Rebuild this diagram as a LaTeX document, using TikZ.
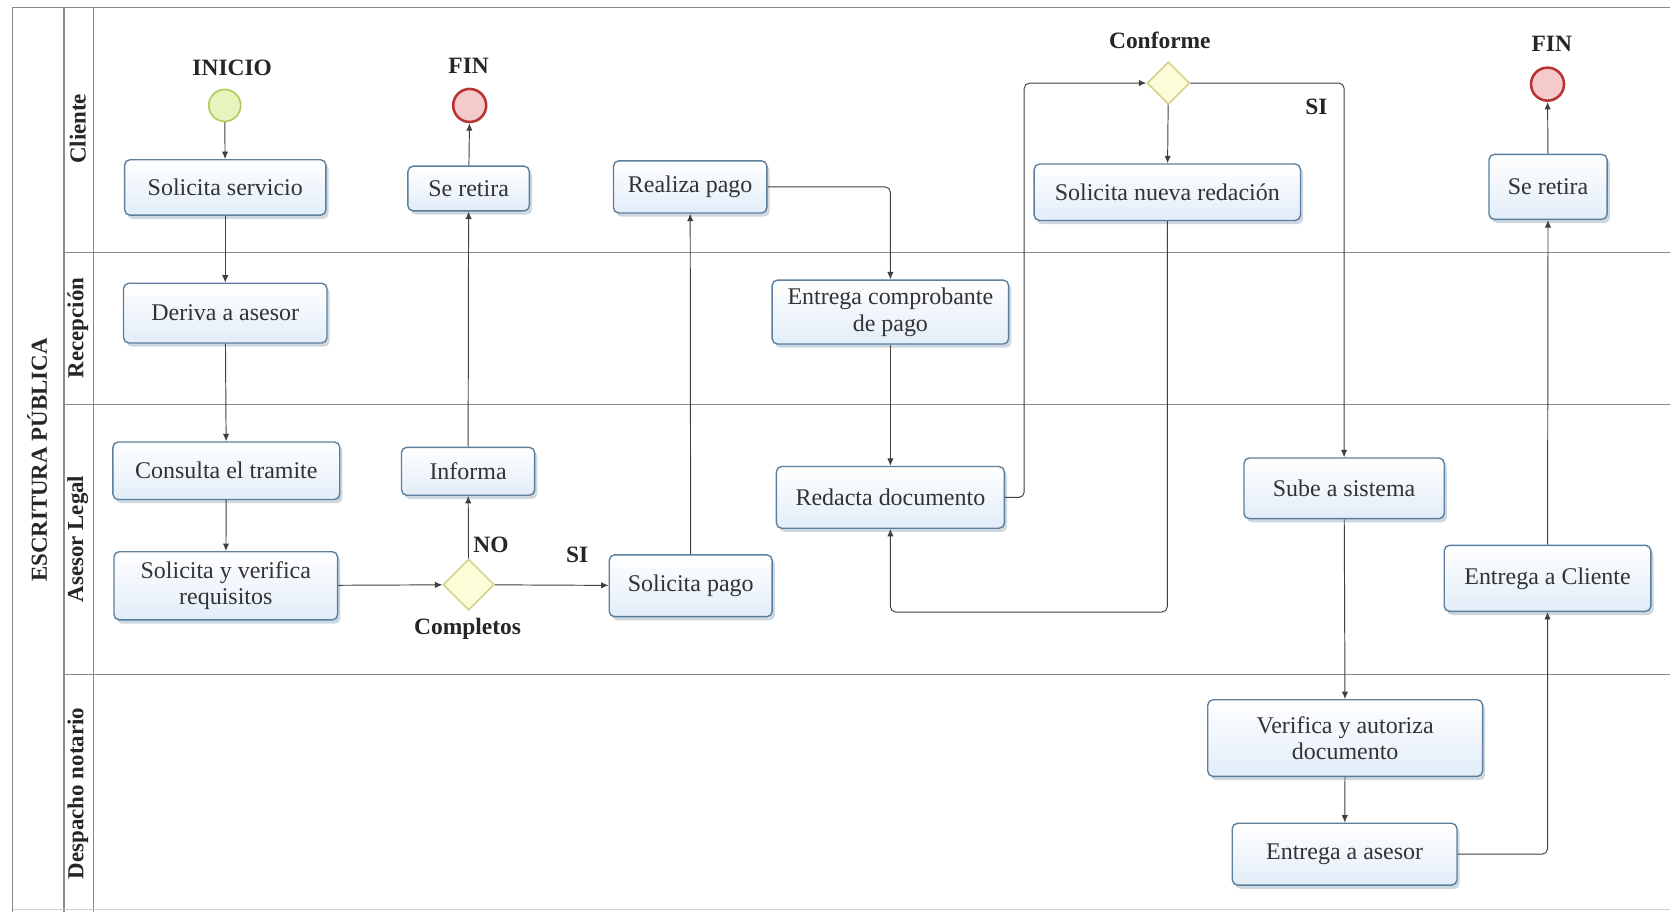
\documentclass[tikz,border=0pt]{standalone}
\usepackage{fontspec}
\setmainfont{Liberation Serif}
\usetikzlibrary{arrows.meta,shapes.geometric,shadows,calc}
\definecolor{boxborder}{HTML}{5B7F9C}
\definecolor{boxfill}{HTML}{E2EDF8}
\definecolor{txt}{HTML}{333333}
\definecolor{lanegray}{HTML}{8A8A8A}
\definecolor{conn}{HTML}{404040}
\definecolor{startfill}{HTML}{E6F4BE}
\definecolor{startdraw}{HTML}{AFCB5A}
\definecolor{endfill}{HTML}{F5CACA}
\definecolor{enddraw}{HTML}{B83434}
\definecolor{gwfill}{HTML}{FCFCD8}
\definecolor{gwdraw}{HTML}{D3D38A}
\tikzset{
  task/.style={draw=boxborder, line width=1.3pt, rounded corners=5pt,
    top color=white, bottom color=boxfill, text=txt, align=center,
    inner sep=2pt, font=\fontsize{22.5}{25}\selectfont,
    drop shadow={shadow xshift=2.5pt, shadow yshift=-3.5pt, opacity=0.3, fill=boxborder}},
  startev/.style={circle, draw=startdraw, line width=1.5pt, fill=startfill, minimum size=30pt, inner sep=0pt},
  endev/.style={circle, draw=enddraw, line width=2.4pt, fill=endfill, minimum size=31pt, inner sep=0pt},
  gw/.style={diamond, aspect=1, draw=gwdraw, line width=1.5pt, fill=gwfill, inner sep=0pt},
  lbl/.style={font=\fontsize{22}{24}\selectfont\bfseries, text=black!85},
  lanelbl/.style={font=\fontsize{21.5}{24}\selectfont\bfseries, text=black!85, rotate=90},
  arr/.style={draw=conn, line width=0.9pt, -{Latex[length=7pt,width=6pt]}, rounded corners=5pt},
  lane/.style={draw=lanegray, line width=1.2pt}
}
\begin{document}
\begin{tikzpicture}[x=1pt,y=-1pt]
\useasboundingbox (0,0) rectangle (1568,856);
\fill[white] (0,0) rectangle (1568,856);
% pool and lanes
\draw[lane] (1568,7) -- (12,7) -- (12,856);
\draw[lane] (60,7) -- (60,856);
\draw[lane] (88,7) -- (88,856);
\draw[lane] (60,237) -- (1568,237);
\draw[lane] (60,380) -- (1568,380);
\draw[lane] (60,633) -- (1568,633);
\draw[draw=lanegray!40, line width=1pt] (12,854) -- (1568,854);
\node[lanelbl] (pool) at (35,432) {ESCRITURA PÚBLICA};
\node[lanelbl] (lcli) at (73,121) {Cliente};
\node[lanelbl] (lrec) at (73,308) {Recepción};
\node[lanelbl] (lase) at (73,506) {Asesor Legal};
\node[lanelbl] (ldes) at (73,745) {Despacho notario};
% events and gateways
\node[startev] (start) at (211,99) {};
\node[lbl] (tinicio) at (218,64) {INICIO};
\node[endev] (end1) at (441,99) {};
\node[lbl] (tfin1) at (440,62) {FIN};
\node[endev] (end2) at (1453,79) {};
\node[lbl] (tfin2) at (1457,41) {FIN};
\node[gw, minimum size=48pt] (g1) at (440,549) {};
\node[lbl] (tcomp) at (439,590) {Completos};
\node[gw, minimum size=40pt] (g2) at (1097,78) {};
\node[lbl] (tconf) at (1089,38) {Conforme};
% tasks
\node[task, minimum width=189pt, minimum height=52pt] (ss) at (211.5,176) {Solicita servicio};
\node[task, minimum width=191pt, minimum height=56pt] (da) at (211.5,294) {Deriva a asesor};
\node[task, minimum width=213pt, minimum height=54pt] (ct) at (212.5,442) {Consulta el tramite};
\node[task, minimum width=210pt, minimum height=64pt] (sv) at (212,550) {Solicita y verifica\\requisitos};
\node[task, minimum width=125pt, minimum height=45pt] (inf) at (439.5,442.5) {Informa};
\node[task, minimum width=114pt, minimum height=42pt] (sr1) at (440,177) {Se retira};
\node[task, minimum width=153pt, minimum height=58pt] (sp) at (648.5,550) {Solicita pago};
\node[task, minimum width=144pt, minimum height=49pt] (rp) at (648,175.5) {Realiza pago};
\node[task, minimum width=222pt, minimum height=60pt] (ec) at (836,293) {Entrega comprobante\\de pago};
\node[task, minimum width=214pt, minimum height=58pt] (rd) at (836,467) {Redacta documento};
\node[task, minimum width=250pt, minimum height=53pt] (snr) at (1096,180.5) {Solicita nueva redación};
\node[task, minimum width=188pt, minimum height=57pt] (sub) at (1262,458.5) {Sube a sistema};
\node[task, minimum width=258pt, minimum height=72pt] (va) at (1263,693) {Verifica y autoriza\\documento};
\node[task, minimum width=211pt, minimum height=58pt] (ea) at (1262.5,802) {Entrega a asesor};
\node[task, minimum width=194pt, minimum height=62pt] (ecl) at (1453,543) {Entrega a Cliente};
\node[task, minimum width=111pt, minimum height=61pt] (sr2) at (1453.5,175.5) {Se retira};
% connectors
\draw[arr] (start) -- (ss);
\draw[arr] (ss) -- (da);
\draw[arr] (da) -- (ct);
\draw[arr] (ct) -- (sv);
\draw[arr] (sv) -- (g1);
\draw[arr] (g1) -- (inf);
\node[lbl] (tno) at (461,512) {NO};
\draw[arr] (inf) -- (sr1);
\draw[arr] (sr1) -- (end1);
\draw[arr] (g1) -- (sp);
\node[lbl] (tsi1) at (542,521) {SI};
\draw[arr] (sp) -- (rp);
\draw[arr] (rp.east) -| (ec.north);
\draw[arr] (ec) -- (rd);
\draw[arr] (rd.east) -- ++(18,0) |- (g2.west);
\draw[arr] (g2) -- (snr);
\draw[arr] (snr.south) -- ++(0,367) -| (rd.south);
\draw[arr] (g2.east) -| (sub.north);
\node[lbl] (tsi2) at (1236,100) {SI};
\draw[arr] (sub) -- (va);
\draw[arr] (va) -- (ea);
\draw[arr] (ea.east) -| (ecl.south);
\draw[arr] (ecl) -- (sr2);
\draw[arr] (sr2) -- (end2);
\end{tikzpicture}
\end{document}
